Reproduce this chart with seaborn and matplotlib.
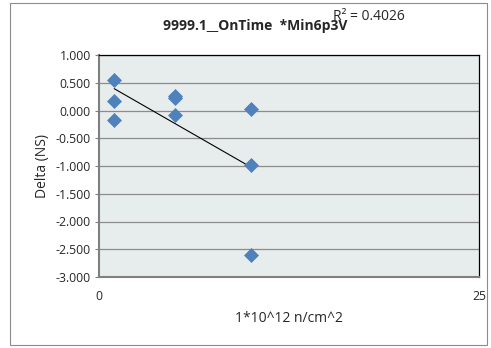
import numpy as np
import pandas as pd
import seaborn as sns
import matplotlib.pyplot as plt
from matplotlib.patches import Rectangle

# Data
fluence = [1, 1, 1, 5, 5, 5, 10, 10, 10]
delta = [0.55, 0.18, -0.17, 0.27, 0.22, -0.08, 0.02, -0.98, -2.60]
y_ticks = [1.0, 0.5, 0.0, -0.5, -1.0, -1.5, -2.0, -2.5, -3.0]
x_ticks = [0, 25]

df = pd.DataFrame({"Fluence": fluence, "Delta": delta})

sns.set_style("white")
plt.rcParams["font.family"] = ["Open Sans", "DejaVu Sans"]

fig = plt.figure(figsize=(4.91, 3.48), dpi=100)
ax = fig.add_axes([99 / 491, 1 - 277 / 348, 380 / 491, 222 / 348])
ax.set_facecolor("#E7ECEC")

# Linear trendline
slope, intercept = np.polyfit(fluence, delta, 1)
xs = np.array([min(fluence), max(fluence)])
ax.plot(xs, slope * xs + intercept, color="black", lw=0.8, zorder=2)

sns.scatterplot(data=df, x="Fluence", y="Delta", marker="D", s=50,
                color="#4F81BD", edgecolor="#4F81BD", ax=ax, zorder=3)

ax.set_xlim(0, 25)
ax.set_ylim(-3, 1)
ax.set_yticks(y_ticks)
ax.set_yticklabels([f"{v:.3f}" for v in y_ticks], fontsize=8.8)
ax.set_xticks(x_ticks)
ax.set_xticklabels([str(v) for v in x_ticks], fontsize=8.8)
ax.tick_params(axis="x", length=0, pad=9)
ax.tick_params(axis="y", length=3, width=0.8, color="#808080", left=True, pad=3)
ax.grid(axis="y", color="#8C8C8C", lw=0.9)
ax.set_axisbelow(True)
for side in ["top", "right"]:
    ax.spines[side].set_color("black")
    ax.spines[side].set_linewidth(0.9)
for side in ["left", "bottom"]:
    ax.spines[side].set_color("#7F7F7F")
    ax.spines[side].set_linewidth(1.5)

ax.set_xlabel("1*10^12 n/cm^2", fontsize=10, labelpad=6)
ax.set_ylabel("Delta (NS)", fontsize=10, labelpad=4)

fig.text(255 / 491, 1 - 26 / 348, "9999.1__OnTime  *Min6p3V", ha="center", va="center",
         fontsize=10, fontweight="bold")
fig.text(333 / 491, 1 - 16 / 348, "R² = 0.4026", ha="left", va="center", fontsize=10)

# Chart area border
fig.patches.append(Rectangle((10 / 491, 1 - 345 / 348), 477 / 491, 342 / 348,
                             transform=fig.transFigure, fill=False,
                             edgecolor="#8C8C8C", lw=0.8))

fig.savefig("out.png", dpi=100, facecolor="white")
